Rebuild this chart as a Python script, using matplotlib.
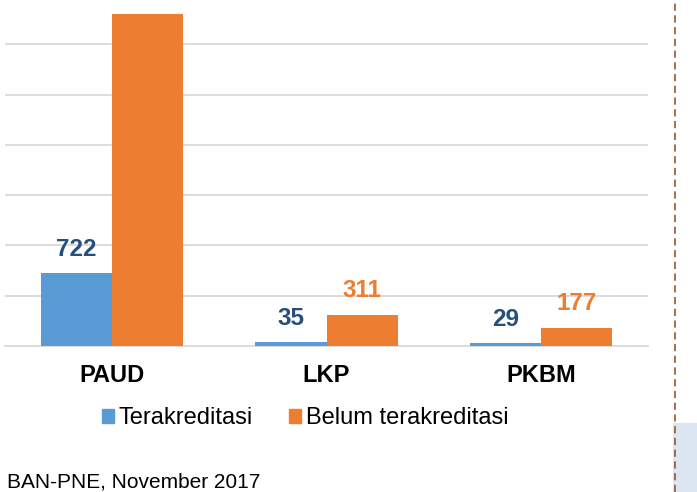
import numpy as np
import matplotlib
matplotlib.use("Agg")
import matplotlib.pyplot as plt
from matplotlib.patches import Patch, Rectangle
from matplotlib.lines import Line2D

plt.rcParams['font.family'] = ['Liberation Sans', 'DejaVu Sans']

categories = ["PAUD", "LKP", "PKBM"]
terakreditasi = [722, 35, 29]
belum = [3300, 311, 177]
series_names = ["Terakreditasi", "Belum terakreditasi"]
footer = "BAN-PNE, November 2017"

BLUE = "#5B9BD5"
ORANGE = "#ED7D31"
BLUE_TXT = "#264F7C"

W, H = 697, 492
fig = plt.figure(figsize=(W / 100, H / 100), dpi=100)
ax = fig.add_axes([5 / W, (H - 346) / H, (648 - 5) / W, 346 / H])

x = np.arange(len(categories))
w = 0.332
b1 = ax.bar(x - w / 2, terakreditasi, w, color=BLUE, zorder=3)
b2 = ax.bar(x + w / 2, belum, w, color=ORANGE, zorder=3)

for rect, v in zip(b1, terakreditasi):
    ax.annotate(str(v), (rect.get_x() + rect.get_width() / 2, rect.get_height()),
                xytext=(0, 17), textcoords='offset points', ha='center', va='center',
                fontsize=17.5, fontweight='bold', color=BLUE_TXT)
for rect, v in zip(b2, belum):
    # the PAUD label sits above the crop of the original picture
    if v > 3000:
        continue
    ax.annotate(str(v), (rect.get_x() + rect.get_width() / 2, rect.get_height()),
                xytext=(0, 17.5), textcoords='offset points', ha='center', va='center',
                fontsize=17.5, fontweight='bold', color=ORANGE)

ax.set_xlim(-0.5, 2.5)
ax.set_ylim(0, 3440)
ax.set_yticks(np.arange(500, 3001, 500))
ax.yaxis.grid(True, color="#D9D9D9", lw=1.3, zorder=0)
ax.tick_params(axis='y', left=False, labelleft=False)
ax.set_xticks(x)
ax.set_xticklabels(categories, fontsize=17, fontweight='bold')
ax.tick_params(axis='x', length=0, pad=13)
for s in ['top', 'right', 'left']:
    ax.spines[s].set_visible(False)
ax.spines['bottom'].set_color("#D9D9D9")
ax.spines['bottom'].set_linewidth(1.3)

handles = [Patch(color=BLUE), Patch(color=ORANGE)]
fig.legend(handles, series_names, loc='center', bbox_to_anchor=(305 / W, 1 - 418 / H),
           ncol=2, frameon=False, fontsize=17, handlelength=0.52, handleheight=0.52,
           handletextpad=0.2, columnspacing=1.5, borderpad=0)

fig.patches.append(Rectangle((673 / W, 0), 24 / W, 69 / H, transform=fig.transFigure,
                             facecolor="#DCE6F2", edgecolor='none', zorder=0))
fig.add_artist(Line2D([675 / W, 675 / W], [0, 1], transform=fig.transFigure,
                      color="#A0623A", lw=1.3, ls=(0, (4, 2.5))))

fig.text(7 / W, 5 / H, footer, fontsize=15, va='baseline', ha='left', color='black')

fig.savefig("out.png", dpi=100)
